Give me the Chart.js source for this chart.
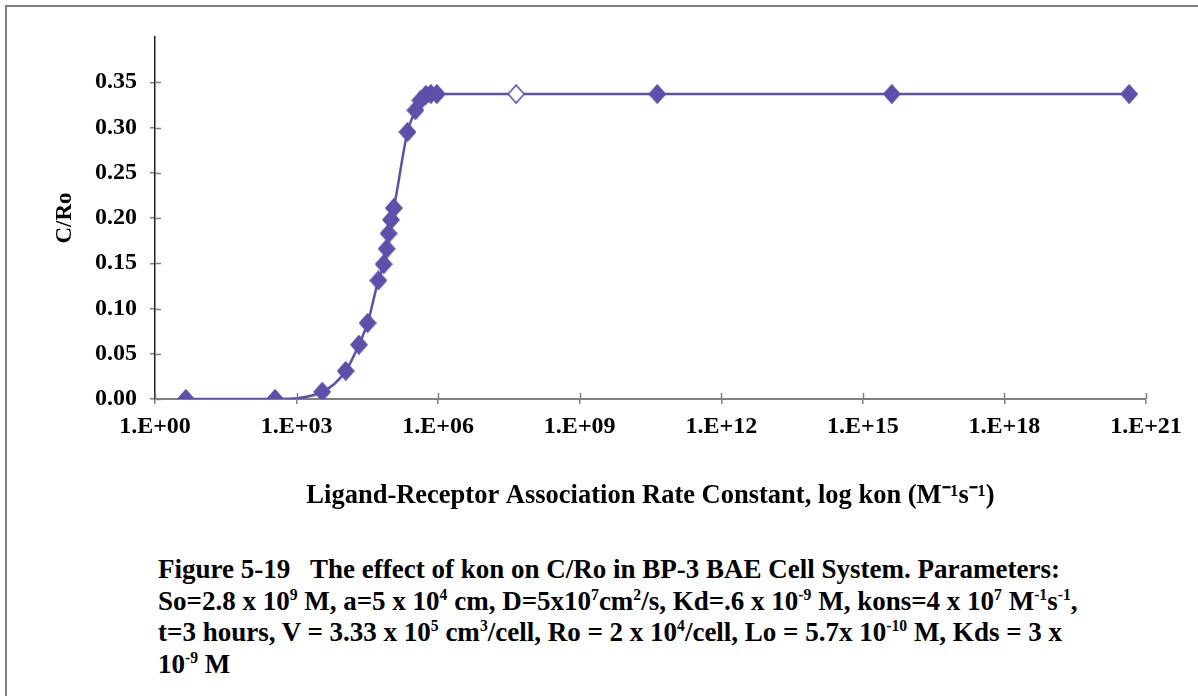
<!DOCTYPE html>
<html lang="en">
<head>
<meta charset="UTF-8">
<title>Figure 5-19 kon vs C/Ro</title>
<script src="https://cdn.jsdelivr.net/npm/chart.js"></script>
<style>
  body { margin: 0; background: #fff; overflow: hidden; }
  #frame { position: absolute; left: 5px; top: 5px; width: 1300px; height: 800px;
           border-left: 2px solid #808080; border-top: 2px solid #808080; }
  #chart { position: absolute; left: 0; top: 0; }
  #caption { position: absolute; left: 158px; top: 554px; white-space: nowrap;
             font: bold 27px "Liberation Serif", serif; line-height: 31.5px; color: #000; }
  #caption sup { font-size: 58%; line-height: 0; vertical-align: 0.62em; }
</style>
</head>
<body>
<div id="frame"></div>
<canvas id="chart" width="1198" height="520"></canvas>
<div id="caption">
  Figure 5-19&nbsp;&nbsp; The effect of kon on C/Ro in BP-3 BAE Cell System. Parameters:<br>
  So=2.8 x 10<sup>9</sup> M, a=5 x 10<sup>4</sup> cm, D=5x10<sup>7</sup>cm<sup>2</sup>/s, Kd=.6 x 10<sup>-9</sup> M, kons=4 x 10<sup>7</sup> M<sup>-1</sup>s<sup>-1</sup>,<br>
  t=3 hours, V = 3.33 x 10<sup>5</sup> cm<sup>3</sup>/cell, Ro = 2 x 10<sup>4</sup>/cell, Lo = 5.7x 10<sup>-10</sup> M, Kds = 3 x<br>
  10<sup>-9</sup> M
</div>
<script>
// kon (M-1 s-1) and C/Ro
const konValues = [4.5, 350, 3500, 11000, 21000, 32000, 54000, 70000, 81000, 89000,
                   100000, 115000, 224000, 330000, 420000, 550000, 700000, 940000,
                   4.5e7, 4.4e10, 4.1e15, 4.4e20];
const cRoValues = [0, 0, 0.008, 0.031, 0.060, 0.084, 0.131, 0.149, 0.166, 0.183,
                   0.198, 0.211, 0.295, 0.319, 0.330, 0.336, 0.337, 0.337,
                   0.337, 0.337, 0.337, 0.337];
const openPoints = [18];                 // hollow marker
const xTickExps = [0, 3, 6, 9, 12, 15, 18, 21];
const yTicks = [0, 0.05, 0.10, 0.15, 0.20, 0.25, 0.30, 0.35];

const lineColor = '#5e50aa';
const serif = '"Liberation Serif", "Times New Roman", serif';

// Excel style diamond marker
function makeDiamond(filled) {
    const c = document.createElement('canvas');
    c.width = 18; c.height = 20;
    const g = c.getContext('2d');
    g.beginPath();
    g.moveTo(9, 1); g.lineTo(17, 10); g.lineTo(9, 19); g.lineTo(1, 10); g.closePath();
    g.fillStyle = filled ? lineColor : '#fff';
    g.fill();
    g.lineWidth = 1.6;
    g.strokeStyle = lineColor;
    g.stroke();
    return c;
}
const fullDiamond = makeDiamond(true);
const openDiamond = makeDiamond(false);

const points = konValues.map((k, i) => ({ x: k, y: cRoValues[i] }));

// tick marks that cross the axis (inner half)
const innerTicks = {
    id: 'innerTicks',
    afterDraw(chart) {
        const { ctx, chartArea, scales } = chart;
        ctx.save();
        ctx.strokeStyle = '#808080';
        ctx.lineWidth = 1.5;
        ctx.beginPath();
        xTickExps.forEach(e => {
            const px = Math.round(scales.x.getPixelForValue(Math.pow(10, e))) + 0.5;
            ctx.moveTo(px, chartArea.bottom);
            ctx.lineTo(px, chartArea.bottom - 6);
        });
        yTicks.forEach(v => {
            const py = Math.round(scales.y.getPixelForValue(v)) + 0.5;
            ctx.moveTo(chartArea.left, py);
            ctx.lineTo(chartArea.left + 6, py);
        });
        ctx.stroke();
        ctx.restore();
    }
};

Chart.defaults.color = '#000';
Chart.defaults.font.family = serif;

new Chart(document.getElementById('chart'), {
    type: 'scatter',
    data: {
        datasets: [{
            data: points,
            showLine: true,
            borderColor: lineColor,
            borderWidth: 2.5,
            cubicInterpolationMode: 'monotone',
            pointStyle: points.map((p, i) => openPoints.includes(i) ? openDiamond : fullDiamond),
            pointRadius: 9
        }]
    },
    options: {
        responsive: false,
        animation: false,
        layout: { padding: { left: 40, top: 37, right: 52, bottom: 0 } },
        plugins: { legend: { display: false }, tooltip: { enabled: false } },
        scales: {
            x: {
                type: 'logarithmic',
                min: 1,
                max: 1e21,
                afterBuildTicks: scale => {
                    scale.ticks = xTickExps.map(e => ({ value: Math.pow(10, e) }));
                },
                afterFit: scale => { scale.height = 121; },
                ticks: {
                    autoSkip: false,
                    maxRotation: 0,
                    padding: 8,
                    font: { size: 24, weight: 'bold' },
                    callback: v => '1.E+' + String(Math.round(Math.log10(v))).padStart(2, '0')
                },
                grid: { drawOnChartArea: false, tickLength: 5, color: '#808080', lineWidth: 1.5 },
                border: { color: '#808080', width: 2 },
                title: {
                    display: true,
                    text: 'Ligand-Receptor Association Rate Constant, log kon (M\u207B\u00B9s\u207B\u00B9)',
                    font: { size: 26.5, weight: 'bold' },
                    padding: { top: 0, bottom: 8 }
                }
            },
            y: {
                min: 0,
                max: 0.4,
                afterBuildTicks: scale => {
                    scale.ticks = yTicks.map(v => ({ value: v }));
                },
                afterFit: scale => { scale.width = 115; },
                ticks: {
                    padding: 13,
                    font: { size: 24, weight: 'bold' },
                    callback: v => v.toFixed(2)
                },
                grid: { drawOnChartArea: false, tickLength: 5, color: '#808080', lineWidth: 1.5 },
                border: { color: '#222', width: 1.5 },
                title: {
                    display: true,
                    text: 'C/Ro',
                    font: { size: 23, weight: 'bold' },
                    padding: { top: 11, bottom: 0 }
                }
            }
        }
    },
    plugins: [innerTicks]
});
</script>
</body>
</html>
